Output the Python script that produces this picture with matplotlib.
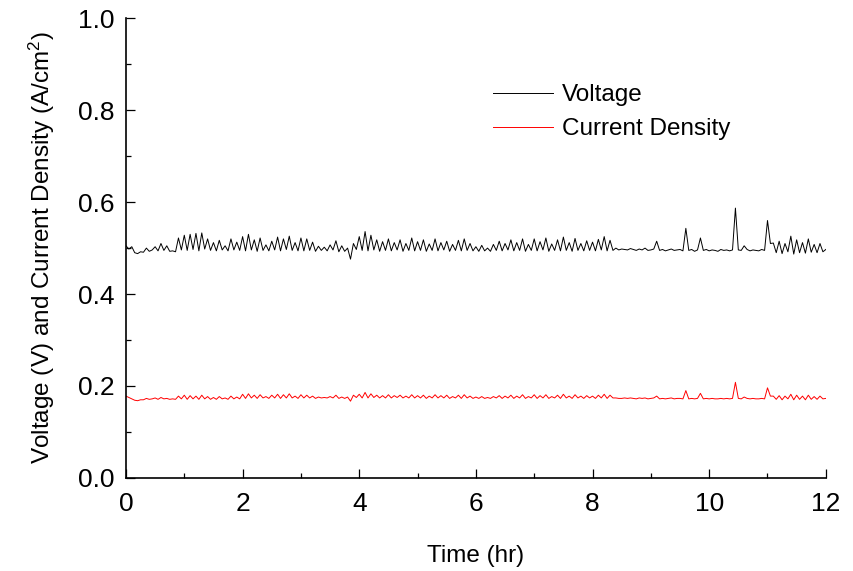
import numpy as np
import matplotlib
matplotlib.use('Agg')
import matplotlib.pyplot as plt
from matplotlib.ticker import MultipleLocator

plt.rcParams['font.family'] = ['Liberation Sans', 'DejaVu Sans']
plt.rcParams['mathtext.default'] = 'regular'

# sampling every 0.05 hr, 0 .. 12 hr
time_hr = np.linspace(0., 12., 241)

voltage = [
    0.505, 0.498, 0.503, 0.490, 0.488, 0.492, 0.491, 0.500, 0.493, 0.496,
    0.503, 0.494, 0.510, 0.495, 0.505, 0.493, 0.494, 0.492, 0.522, 0.496,
    0.528, 0.495, 0.530, 0.497, 0.532, 0.494, 0.533, 0.498, 0.520, 0.495,
    0.512, 0.494, 0.517, 0.496, 0.505, 0.494, 0.520, 0.496, 0.513, 0.495,
    0.525, 0.494, 0.530, 0.496, 0.518, 0.493, 0.522, 0.495, 0.507, 0.494,
    0.515, 0.496, 0.524, 0.494, 0.520, 0.497, 0.526, 0.495, 0.512, 0.494,
    0.522, 0.494, 0.520, 0.495, 0.513, 0.493, 0.504, 0.495, 0.502, 0.494,
    0.507, 0.496, 0.516, 0.492, 0.505, 0.493, 0.500, 0.476, 0.510, 0.497,
    0.525, 0.495, 0.536, 0.494, 0.528, 0.496, 0.518, 0.493, 0.514, 0.495,
    0.520, 0.494, 0.512, 0.496, 0.518, 0.493, 0.510, 0.495, 0.522, 0.494,
    0.514, 0.495, 0.518, 0.493, 0.509, 0.495, 0.520, 0.494, 0.512, 0.496,
    0.515, 0.493, 0.508, 0.495, 0.517, 0.494, 0.520, 0.495, 0.510, 0.494,
    0.503, 0.493, 0.506, 0.494, 0.500, 0.493, 0.508, 0.495, 0.515, 0.494,
    0.510, 0.496, 0.518, 0.494, 0.512, 0.495, 0.520, 0.493, 0.508, 0.495,
    0.520, 0.494, 0.514, 0.496, 0.522, 0.493, 0.509, 0.495, 0.518, 0.494,
    0.524, 0.495, 0.512, 0.493, 0.521, 0.495, 0.510, 0.494, 0.516, 0.495,
    0.513, 0.494, 0.519, 0.496, 0.525, 0.494, 0.517, 0.495, 0.500, 0.496,
    0.498, 0.497, 0.496, 0.499, 0.497, 0.495, 0.498, 0.496, 0.500, 0.495,
    0.496, 0.498, 0.515, 0.495, 0.497, 0.494, 0.496, 0.498, 0.495, 0.496,
    0.497, 0.494, 0.543, 0.495, 0.497, 0.493, 0.496, 0.522, 0.495, 0.497,
    0.494, 0.496, 0.495, 0.493, 0.497, 0.495, 0.496, 0.494, 0.496, 0.587,
    0.496, 0.495, 0.505, 0.497, 0.494, 0.496, 0.495, 0.494, 0.497, 0.495,
    0.560, 0.510, 0.511, 0.490, 0.515, 0.488, 0.510, 0.492, 0.526, 0.487,
    0.518, 0.490, 0.512, 0.489, 0.520, 0.491, 0.508, 0.490, 0.510, 0.492,
    0.497]

current_density = [
    0.178, 0.175, 0.172, 0.169, 0.168, 0.170, 0.170, 0.173, 0.171, 0.172,
    0.174, 0.171, 0.175, 0.172, 0.173, 0.171, 0.172, 0.171, 0.178, 0.172,
    0.180, 0.171, 0.179, 0.172, 0.178, 0.171, 0.180, 0.172, 0.177, 0.171,
    0.175, 0.171, 0.177, 0.172, 0.174, 0.171, 0.178, 0.172, 0.176, 0.172,
    0.182, 0.173, 0.183, 0.174, 0.180, 0.173, 0.181, 0.174, 0.177, 0.173,
    0.180, 0.174, 0.182, 0.173, 0.181, 0.174, 0.183, 0.174, 0.178, 0.173,
    0.181, 0.174, 0.180, 0.174, 0.178, 0.173, 0.176, 0.174, 0.175, 0.174,
    0.177, 0.174, 0.180, 0.173, 0.176, 0.173, 0.176, 0.167, 0.180, 0.175,
    0.182, 0.174, 0.186, 0.174, 0.183, 0.175, 0.180, 0.174, 0.179, 0.174,
    0.181, 0.174, 0.179, 0.175, 0.180, 0.174, 0.178, 0.174, 0.181, 0.174,
    0.179, 0.174, 0.180, 0.173, 0.178, 0.174, 0.181, 0.174, 0.179, 0.174,
    0.180, 0.173, 0.177, 0.174, 0.180, 0.173, 0.181, 0.174, 0.178, 0.173,
    0.176, 0.173, 0.177, 0.173, 0.175, 0.173, 0.177, 0.174, 0.179, 0.173,
    0.178, 0.174, 0.180, 0.173, 0.178, 0.174, 0.181, 0.173, 0.177, 0.174,
    0.181, 0.173, 0.179, 0.174, 0.181, 0.173, 0.177, 0.174, 0.180, 0.173,
    0.182, 0.174, 0.178, 0.173, 0.181, 0.174, 0.178, 0.173, 0.179, 0.174,
    0.178, 0.173, 0.180, 0.174, 0.182, 0.173, 0.180, 0.174, 0.174, 0.173,
    0.173, 0.174, 0.173, 0.174, 0.173, 0.172, 0.174, 0.173, 0.174, 0.172,
    0.173, 0.174, 0.178, 0.172, 0.173, 0.172, 0.173, 0.174, 0.172, 0.173,
    0.173, 0.172, 0.190, 0.172, 0.173, 0.172, 0.173, 0.184, 0.172, 0.173,
    0.172, 0.173, 0.172, 0.172, 0.173, 0.172, 0.173, 0.172, 0.173, 0.208,
    0.173, 0.172, 0.176, 0.173, 0.172, 0.173, 0.172, 0.172, 0.173, 0.172,
    0.196, 0.178, 0.178, 0.171, 0.179, 0.170, 0.178, 0.172, 0.182, 0.170,
    0.180, 0.171, 0.178, 0.170, 0.180, 0.171, 0.177, 0.171, 0.178, 0.172,
    0.173]

fig = plt.figure(figsize=(8.54, 5.71), dpi=100)
ax = fig.add_axes([0.1475, 0.163, 0.8195, 0.805])

ax.plot(time_hr, voltage, '-', color='black', lw=0.7, label='Voltage')
ax.plot(time_hr, current_density, '-', color='red', lw=0.7, label='Current Density')

ax.set_xlim(0, 12)
ax.set_ylim(0, 1.0)
ax.xaxis.set_major_locator(MultipleLocator(2))
ax.xaxis.set_minor_locator(MultipleLocator(1))
ax.yaxis.set_major_locator(MultipleLocator(0.2))
ax.yaxis.set_minor_locator(MultipleLocator(0.1))
ax.yaxis.set_major_formatter(matplotlib.ticker.FormatStrFormatter('%.1f'))

for s in ['top', 'right']:
    ax.spines[s].set_visible(False)
for s in ['left', 'bottom']:
    ax.spines[s].set_linewidth(1.2)
ax.tick_params(which='major', direction='in', length=6.5, width=0.9, labelsize=19)
ax.tick_params(axis='x', which='major', pad=10)
ax.tick_params(axis='y', which='major', pad=8)
ax.tick_params(which='minor', direction='in', length=3.5, width=0.9)

ax.set_xlabel('Time (hr)', fontsize=17.5, labelpad=21)
ax.set_ylabel('Voltage (V) and Current Density (A/cm$^2$)', fontsize=17.5, labelpad=15)

ax.legend(loc='upper left', bbox_to_anchor=(0.51, 0.878), frameon=False, fontsize=17.5,
          handlelength=2.5, handletextpad=0.35, labelspacing=0.5, borderaxespad=0.)

fig.savefig('out.png', dpi=100)
